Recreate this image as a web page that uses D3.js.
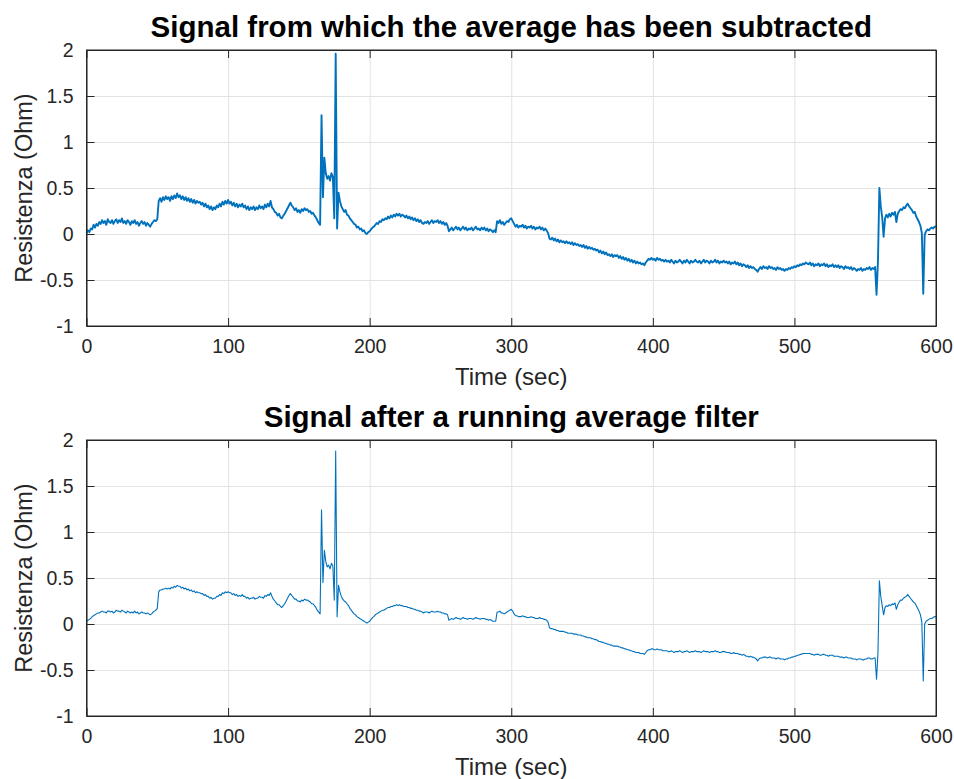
<!DOCTYPE html>
<html>
<head>
<meta charset="utf-8">
<script src="https://cdn.jsdelivr.net/npm/d3@7"></script>
<style>
  body { margin: 0; background: #fff; }
  svg { display: block; font-family: "Liberation Sans", Arial, Helvetica, sans-serif; }
  .tick text { fill: #262626; font-size: 19.5px; }
  .grid line { stroke: #e3e3e3; }
  .grid path { display: none; }
</style>
</head>
<body>
<div id="chart"></div>
<script>
// one sample per second, 0..600 s
const rawSignal = [
  0.01, 0.04, 0.02, 0.06, 0.05, 0.10, 0.07, 0.11, 0.09, 0.13,
  0.11, 0.15, 0.12, 0.14, 0.10, 0.16, 0.13, 0.12, 0.15, 0.11,
  0.14, 0.16, 0.12, 0.15, 0.13, 0.17, 0.12, 0.14, 0.11, 0.15,
  0.13, 0.10, 0.14, 0.12, 0.15, 0.11, 0.13, 0.09, 0.12, 0.14,
  0.11, 0.13, 0.09, 0.12, 0.10, 0.08, 0.11, 0.13, 0.15, 0.14,
  0.16, 0.36, 0.39, 0.35, 0.40, 0.37, 0.41, 0.38, 0.40, 0.36,
  0.41, 0.38, 0.42, 0.39, 0.44, 0.40, 0.42, 0.38, 0.41, 0.37,
  0.40, 0.36, 0.39, 0.35, 0.38, 0.34, 0.37, 0.33, 0.36, 0.34,
  0.35, 0.32, 0.34, 0.30, 0.33, 0.29, 0.31, 0.27, 0.30, 0.26,
  0.29, 0.27, 0.31, 0.29, 0.33, 0.30, 0.35, 0.32, 0.36, 0.33,
  0.37, 0.33, 0.35, 0.31, 0.34, 0.30, 0.33, 0.29, 0.32, 0.30,
  0.33, 0.29, 0.31, 0.27, 0.30, 0.26, 0.29, 0.27, 0.30, 0.26,
  0.29, 0.27, 0.31, 0.28, 0.30, 0.27, 0.32, 0.29, 0.33, 0.30,
  0.36, 0.29, 0.27, 0.24, 0.23, 0.20, 0.22, 0.18, 0.17, 0.20,
  0.22, 0.25, 0.28, 0.31, 0.34, 0.31, 0.29, 0.26, 0.28, 0.24,
  0.26, 0.23, 0.27, 0.25, 0.28, 0.26, 0.27, 0.24, 0.25, 0.22,
  0.23, 0.20, 0.18, 0.15, 0.12, 0.10, 1.29, 0.40, 0.83, 0.66,
  0.60, 0.63, 0.58, 0.66, 0.62, 0.17, 1.96, 0.06, 0.45, 0.36,
  0.30, 0.27, 0.24, 0.26, 0.21, 0.20, 0.17, 0.15, 0.13, 0.11,
  0.10, 0.07, 0.08, 0.05, 0.06, 0.03, 0.04, 0.01, 0.00, 0.02,
  0.03, 0.05, 0.07, 0.08, 0.10, 0.12, 0.11, 0.14, 0.13, 0.16,
  0.15, 0.17, 0.16, 0.19, 0.17, 0.20, 0.18, 0.21, 0.19, 0.22,
  0.20, 0.22, 0.19, 0.21, 0.20, 0.18, 0.20, 0.17, 0.19, 0.16,
  0.18, 0.15, 0.17, 0.14, 0.16, 0.13, 0.15, 0.12, 0.11, 0.13,
  0.12, 0.14, 0.11, 0.13, 0.15, 0.12, 0.14, 0.13, 0.15, 0.12,
  0.14, 0.11, 0.13, 0.10, 0.12, 0.09, 0.03, 0.05, 0.07, 0.04,
  0.06, 0.08, 0.05, 0.07, 0.04, 0.06, 0.08, 0.05, 0.07, 0.04,
  0.06, 0.05, 0.07, 0.04, 0.06, 0.08, 0.05, 0.06, 0.04, 0.07,
  0.05, 0.07, 0.04, 0.06, 0.03, 0.05, 0.04, 0.02, 0.04, 0.02,
  0.14, 0.12, 0.15, 0.11, 0.13, 0.10, 0.12, 0.14, 0.13, 0.16,
  0.17, 0.14, 0.11, 0.08, 0.10, 0.07, 0.09, 0.08, 0.10, 0.07,
  0.09, 0.06, 0.08, 0.07, 0.09, 0.06, 0.08, 0.05, 0.07, 0.06,
  0.08, 0.05, 0.07, 0.04, 0.06, 0.04, 0.01, -0.05, -0.06, -0.04,
  -0.07, -0.05, -0.08, -0.06, -0.09, -0.07, -0.09, -0.08, -0.10, -0.08,
  -0.10, -0.09, -0.11, -0.09, -0.12, -0.10, -0.12, -0.11, -0.13, -0.12,
  -0.14, -0.12, -0.15, -0.13, -0.16, -0.14, -0.16, -0.15, -0.17, -0.16,
  -0.18, -0.17, -0.20, -0.18, -0.21, -0.19, -0.22, -0.20, -0.23, -0.22,
  -0.24, -0.22, -0.25, -0.23, -0.24, -0.23, -0.26, -0.24, -0.27, -0.25,
  -0.28, -0.26, -0.29, -0.27, -0.30, -0.28, -0.31, -0.29, -0.32, -0.30,
  -0.32, -0.31, -0.33, -0.32, -0.34, -0.31, -0.29, -0.27, -0.28, -0.26,
  -0.28, -0.27, -0.29, -0.26, -0.28, -0.27, -0.29, -0.28, -0.30, -0.28,
  -0.30, -0.29, -0.31, -0.28, -0.30, -0.32, -0.29, -0.31, -0.30, -0.28,
  -0.30, -0.32, -0.29, -0.31, -0.28, -0.30, -0.32, -0.29, -0.31, -0.30,
  -0.28, -0.30, -0.31, -0.29, -0.32, -0.30, -0.28, -0.31, -0.29, -0.30,
  -0.32, -0.29, -0.31, -0.30, -0.28, -0.31, -0.29, -0.32, -0.30, -0.31,
  -0.29, -0.31, -0.30, -0.32, -0.30, -0.33, -0.31, -0.32, -0.30, -0.33,
  -0.31, -0.34, -0.32, -0.35, -0.33, -0.34, -0.36, -0.34, -0.37, -0.35,
  -0.37, -0.36, -0.38, -0.39, -0.41, -0.38, -0.36, -0.38, -0.35, -0.37,
  -0.36, -0.38, -0.35, -0.37, -0.36, -0.38, -0.37, -0.39, -0.36, -0.38,
  -0.37, -0.39, -0.38, -0.40, -0.38, -0.39, -0.37, -0.38, -0.36, -0.37,
  -0.35, -0.36, -0.34, -0.35, -0.33, -0.34, -0.32, -0.33, -0.31, -0.32,
  -0.33, -0.31, -0.34, -0.32, -0.35, -0.33, -0.34, -0.32, -0.35, -0.33,
  -0.34, -0.32, -0.35, -0.33, -0.36, -0.34, -0.35, -0.33, -0.36, -0.34,
  -0.36, -0.34, -0.37, -0.35, -0.36, -0.38, -0.35, -0.37, -0.36, -0.38,
  -0.36, -0.39, -0.37, -0.38, -0.40, -0.38, -0.39, -0.37, -0.40, -0.38,
  -0.39, -0.37, -0.38, -0.36, -0.39, -0.37, -0.38, -0.36, -0.66, -0.30,
  0.50, 0.30, 0.18, -0.03, 0.17, 0.21, 0.18, 0.22, 0.19, 0.23,
  0.21, 0.24, 0.13, 0.22, 0.25, 0.27, 0.26, 0.29, 0.28, 0.31,
  0.33, 0.30, 0.28, 0.26, 0.23, 0.24, 0.19, 0.16, 0.13, 0.09,
  0.01, -0.65, -0.01, 0.03, 0.05, 0.04, 0.06, 0.07, 0.06, 0.08, 0.08
];

const filteredSignal = [
  0.03, 0.04, 0.05, 0.06, 0.08, 0.09, 0.10, 0.11, 0.12, 0.12,
  0.13, 0.14, 0.13, 0.13, 0.12, 0.14, 0.14, 0.13, 0.14, 0.12,
  0.13, 0.15, 0.14, 0.14, 0.13, 0.15, 0.14, 0.13, 0.12, 0.14,
  0.13, 0.12, 0.13, 0.12, 0.14, 0.12, 0.13, 0.11, 0.12, 0.13,
  0.12, 0.12, 0.11, 0.12, 0.11, 0.10, 0.11, 0.13, 0.14, 0.15,
  0.17, 0.35, 0.37, 0.37, 0.38, 0.38, 0.39, 0.38, 0.39, 0.38,
  0.40, 0.39, 0.41, 0.40, 0.42, 0.41, 0.41, 0.39, 0.40, 0.38,
  0.39, 0.37, 0.38, 0.36, 0.37, 0.35, 0.36, 0.34, 0.35, 0.34,
  0.34, 0.33, 0.33, 0.31, 0.32, 0.30, 0.30, 0.28, 0.29, 0.27,
  0.28, 0.28, 0.30, 0.30, 0.32, 0.31, 0.34, 0.33, 0.35, 0.34,
  0.35, 0.34, 0.34, 0.32, 0.33, 0.31, 0.32, 0.30, 0.31, 0.30,
  0.32, 0.30, 0.30, 0.28, 0.29, 0.27, 0.28, 0.28, 0.29, 0.27,
  0.28, 0.28, 0.30, 0.29, 0.29, 0.28, 0.31, 0.30, 0.32, 0.31,
  0.34, 0.30, 0.27, 0.25, 0.23, 0.21, 0.21, 0.19, 0.18, 0.20,
  0.22, 0.25, 0.28, 0.31, 0.33, 0.31, 0.29, 0.27, 0.27, 0.25,
  0.25, 0.24, 0.26, 0.25, 0.27, 0.26, 0.26, 0.25, 0.24, 0.22,
  0.22, 0.20, 0.18, 0.15, 0.13, 0.11, 1.24, 0.45, 0.80, 0.68,
  0.62, 0.64, 0.60, 0.66, 0.63, 0.26, 1.88, 0.08, 0.42, 0.35,
  0.30, 0.27, 0.25, 0.24, 0.22, 0.20, 0.17, 0.15, 0.13, 0.11,
  0.10, 0.08, 0.07, 0.06, 0.05, 0.04, 0.03, 0.02, 0.01, 0.02,
  0.03, 0.05, 0.07, 0.08, 0.10, 0.11, 0.12, 0.13, 0.14, 0.15,
  0.15, 0.16, 0.17, 0.18, 0.18, 0.19, 0.19, 0.20, 0.20, 0.21,
  0.20, 0.21, 0.20, 0.20, 0.19, 0.19, 0.19, 0.18, 0.18, 0.17,
  0.17, 0.16, 0.16, 0.15, 0.15, 0.14, 0.14, 0.13, 0.12, 0.13,
  0.13, 0.13, 0.12, 0.13, 0.14, 0.13, 0.13, 0.13, 0.14, 0.13,
  0.13, 0.12, 0.12, 0.11, 0.11, 0.10, 0.04, 0.05, 0.06, 0.05,
  0.06, 0.07, 0.06, 0.06, 0.05, 0.06, 0.07, 0.06, 0.06, 0.05,
  0.06, 0.06, 0.06, 0.05, 0.06, 0.07, 0.06, 0.06, 0.05, 0.06,
  0.06, 0.06, 0.05, 0.05, 0.04, 0.05, 0.04, 0.03, 0.03, 0.03,
  0.13, 0.13, 0.14, 0.12, 0.12, 0.11, 0.12, 0.13, 0.14, 0.15,
  0.16, 0.14, 0.11, 0.09, 0.09, 0.08, 0.08, 0.08, 0.09, 0.08,
  0.08, 0.07, 0.07, 0.07, 0.08, 0.07, 0.07, 0.06, 0.06, 0.06,
  0.07, 0.06, 0.06, 0.05, 0.05, 0.04, 0.02, -0.04, -0.05, -0.05,
  -0.06, -0.06, -0.07, -0.07, -0.08, -0.08, -0.08, -0.08, -0.09, -0.09,
  -0.10, -0.10, -0.10, -0.10, -0.11, -0.11, -0.11, -0.12, -0.12, -0.12,
  -0.13, -0.13, -0.14, -0.14, -0.15, -0.15, -0.15, -0.16, -0.16, -0.17,
  -0.17, -0.18, -0.19, -0.19, -0.20, -0.20, -0.21, -0.21, -0.22, -0.22,
  -0.23, -0.23, -0.24, -0.24, -0.24, -0.24, -0.25, -0.25, -0.26, -0.26,
  -0.27, -0.27, -0.28, -0.28, -0.29, -0.29, -0.30, -0.30, -0.31, -0.31,
  -0.31, -0.32, -0.32, -0.32, -0.33, -0.31, -0.29, -0.28, -0.28, -0.27,
  -0.27, -0.28, -0.28, -0.27, -0.28, -0.28, -0.28, -0.29, -0.29, -0.29,
  -0.29, -0.30, -0.30, -0.29, -0.30, -0.31, -0.30, -0.30, -0.30, -0.29,
  -0.30, -0.31, -0.30, -0.30, -0.29, -0.30, -0.31, -0.30, -0.30, -0.30,
  -0.29, -0.30, -0.30, -0.30, -0.31, -0.30, -0.29, -0.30, -0.30, -0.30,
  -0.31, -0.30, -0.30, -0.30, -0.29, -0.30, -0.30, -0.31, -0.31, -0.30,
  -0.30, -0.30, -0.31, -0.31, -0.31, -0.32, -0.32, -0.31, -0.32, -0.32,
  -0.32, -0.33, -0.33, -0.34, -0.33, -0.34, -0.35, -0.35, -0.36, -0.35,
  -0.36, -0.36, -0.37, -0.38, -0.40, -0.38, -0.37, -0.37, -0.36, -0.36,
  -0.36, -0.37, -0.36, -0.36, -0.37, -0.37, -0.37, -0.38, -0.37, -0.37,
  -0.38, -0.38, -0.38, -0.39, -0.38, -0.38, -0.37, -0.37, -0.36, -0.36,
  -0.35, -0.35, -0.34, -0.34, -0.33, -0.33, -0.32, -0.32, -0.32, -0.32,
  -0.32, -0.32, -0.33, -0.33, -0.34, -0.33, -0.33, -0.33, -0.34, -0.34,
  -0.33, -0.33, -0.34, -0.34, -0.35, -0.34, -0.34, -0.34, -0.35, -0.35,
  -0.35, -0.35, -0.36, -0.36, -0.36, -0.37, -0.36, -0.36, -0.37, -0.37,
  -0.37, -0.38, -0.38, -0.38, -0.39, -0.38, -0.38, -0.38, -0.39, -0.39,
  -0.38, -0.38, -0.37, -0.37, -0.38, -0.38, -0.37, -0.37, -0.60, -0.32,
  0.47, 0.30, 0.20, 0.10, 0.18, 0.20, 0.19, 0.21, 0.20, 0.22,
  0.21, 0.23, 0.16, 0.21, 0.24, 0.26, 0.26, 0.28, 0.29, 0.30,
  0.32, 0.30, 0.28, 0.26, 0.24, 0.23, 0.20, 0.17, 0.14, 0.10,
  0.02, -0.62, 0.00, 0.03, 0.04, 0.05, 0.06, 0.06, 0.07, 0.08, 0.08
];

const titles = ["Signal from which the average has been subtracted", "Signal after a running average filter"];
const xTicks = [0, 100, 200, 300, 400, 500, 600];
const yTicks = [-1, -0.5, 0, 0.5, 1, 1.5, 2];
const xLabel = "Time (sec)";
const yLabel = "Resistenza (Ohm)";

const W = 954, H = 779;
const left = 86.5, right = 936;
const panelTops = [50, 440];
const panelH = 276;
const tickLen = 8;

const svg = d3.select("#chart")
    .append("svg")
    .attr("width", W)
    .attr("height", H);

svg.append("rect").attr("width", W).attr("height", H).attr("fill", "#fff");

const x = d3.scaleLinear().domain([0, 600]).range([0, right - left]);
const y = d3.scaleLinear().domain([-1, 2]).range([panelH, 0]);

function drawPanel(values, title, top, lineWidth) {
    const g = svg.append("g").attr("transform", "translate(" + left + "," + top + ")");
    const w = right - left;

    // grid
    g.append("g").attr("class", "grid")
        .attr("transform", "translate(0," + panelH + ")")
        .call(d3.axisBottom(x).tickValues(xTicks).tickSize(-panelH).tickFormat(""));
    g.append("g").attr("class", "grid")
        .call(d3.axisLeft(y).tickValues(yTicks).tickSize(-w).tickFormat(""));

    // signal
    const line = d3.line()
        .x((d, i) => x(i))
        .y(d => y(d));
    g.append("path")
        .datum(values)
        .attr("fill", "none")
        .attr("stroke", "#0072BD")
        .attr("stroke-width", lineWidth)
        .attr("stroke-linejoin", "round")
        .attr("d", line);

    // axes with inward ticks, MATLAB style
    const xb = g.append("g")
        .attr("transform", "translate(0," + panelH + ")")
        .call(d3.axisBottom(x).tickValues(xTicks).tickSizeInner(-tickLen).tickSizeOuter(0).tickPadding(13));
    g.append("g")
        .call(d3.axisLeft(y).tickValues(yTicks).tickSizeInner(-tickLen).tickSizeOuter(0).tickPadding(13)
            .tickFormat(d => d));
    g.append("g")
        .call(d3.axisTop(x).tickValues(xTicks).tickSizeInner(-tickLen).tickSizeOuter(0).tickFormat(""));
    g.append("g")
        .attr("transform", "translate(" + w + ",0)")
        .call(d3.axisRight(y).tickValues(yTicks).tickSizeInner(-tickLen).tickSizeOuter(0).tickFormat(""));
    g.selectAll(".domain").attr("stroke", "#262626");
    g.selectAll(".tick line").filter(function() { return !this.closest(".grid"); }).attr("stroke", "#262626");
    xb.selectAll("text").attr("dy", "0.71em");

    g.append("rect")
        .attr("width", w).attr("height", panelH)
        .attr("fill", "none").attr("stroke", "#262626").attr("stroke-width", 1);

    g.append("text")
        .attr("x", w / 2).attr("y", -13)
        .attr("text-anchor", "middle")
        .style("font-size", "29.5px").style("font-weight", "bold").style("fill", "#000")
        .text(title);

    g.append("text")
        .attr("x", w / 2).attr("y", panelH + 59)
        .attr("text-anchor", "middle")
        .style("font-size", "24px").style("fill", "#262626")
        .text(xLabel);

    g.append("text")
        .attr("transform", "rotate(-90)")
        .attr("x", -panelH / 2).attr("y", -55)
        .attr("text-anchor", "middle")
        .style("font-size", "23.5px").style("fill", "#262626")
        .text(yLabel);
}

drawPanel(rawSignal, titles[0], panelTops[0], 1.9);
drawPanel(filteredSignal, titles[1], panelTops[1], 1.1);
</script>
</body>
</html>
